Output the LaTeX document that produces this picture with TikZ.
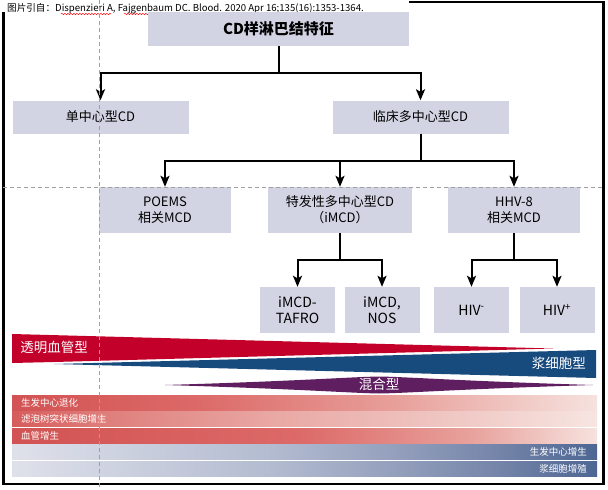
\documentclass[tikz,border=0pt]{standalone}
\usepackage{fontspec}
\setmainfont{Noto Sans CJK SC}
\usetikzlibrary{arrows.meta,decorations.pathmorphing}
\definecolor{boxc}{RGB}{210,212,227}
\definecolor{redw}{RGB}{194,0,42}
\definecolor{bluew}{RGB}{23,74,125}
\definecolor{purw}{RGB}{94,30,96}
\definecolor{dashc}{RGB}{160,160,160}
\definecolor{rA}{HTML}{D25353}
\definecolor{rB}{HTML}{DC6A68}
\definecolor{rC}{HTML}{E8A19C}
\definecolor{rD}{HTML}{F6E2DE}
\definecolor{sA}{HTML}{D65C5C}
\definecolor{sB}{HTML}{DE7D7A}
\definecolor{sC}{HTML}{E9A8A4}
\definecolor{sD}{HTML}{F0CAC6}
\definecolor{sE}{HTML}{F7E5E1}
\definecolor{bA}{HTML}{DFE1EA}
\definecolor{bB}{HTML}{D0D4E2}
\definecolor{bC}{HTML}{B3BBD0}
\definecolor{bD}{HTML}{95A1BD}
\definecolor{bE}{HTML}{7282A7}
\definecolor{bF}{HTML}{4D6693}
\tikzset{
  box/.style={fill=boxc, inner sep=0pt, align=center, font=\fontsize{13}{16}\selectfont},
  arr/.style={line width=2pt, -{Stealth[length=11pt,width=9pt,inset=2.5pt]}},
  dashln/.style={draw=dashc, line width=0.9pt, dash pattern=on 4pt off 3pt},
  bartext/.style={text=white, font=\fontsize{9.5}{11}\selectfont, inner sep=0pt},
  wedgetext/.style={text=white, font=\fontsize{13.5}{16}\selectfont, inner sep=0pt}
}
\begin{document}
\begin{tikzpicture}[x=1pt,y=-1pt]
\useasboundingbox (0,0) rectangle (608,490);
% frame
\draw[line width=2.6pt] (3.2,2) rectangle (603.5,484);
\fill[white] (0,0) rectangle (409,12);
% citation
\node[anchor=west, inner sep=0pt, font=\fontsize{9.6}{11}\selectfont] (cite) at (7,8.5)
  {图片引自：Dispenzieri A, Fajgenbaum DC. Blood. 2020 Apr 16;135(16):1353-1364.};
\draw[red, line width=0.5pt, decorate, decoration={snake, amplitude=0.6pt, segment length=3pt}] (61,14) -- (111,14);
\draw[red, line width=0.5pt, decorate, decoration={snake, amplitude=0.6pt, segment length=3pt}] (124,14) -- (180,14);
% boxes
\node[box, minimum width=261pt, minimum height=34pt, font=\bfseries\fontsize{15}{18}\selectfont] (title) at (278.5,29) {CD样淋巴结特征};
\node[box, minimum width=176pt, minimum height=33pt] (single) at (100.5,117) {单中心型CD};
\node[box, minimum width=176pt, minimum height=33pt] (clin) at (420.5,117) {临床多中心型CD};
\node[box, minimum width=132pt, minimum height=46pt] (poems) at (165,210) {POEMS\\相关MCD};
\node[box, minimum width=144pt, minimum height=46pt] (imcd) at (340,210) {特发性多中心型CD\\（iMCD）};
\node[box, minimum width=132pt, minimum height=46pt] (hhv) at (514,210) {HHV-8\\相关MCD};
\node[box, minimum width=75pt, minimum height=46pt, font=\fontsize{14}{16}\selectfont] (tafro) at (297.5,310) {iMCD-\\TAFRO};
\node[box, minimum width=75pt, minimum height=46pt, font=\fontsize{14}{16}\selectfont] (nos) at (382,310) {iMCD,\\NOS};
\node[box, minimum width=75pt, minimum height=46pt, font=\fontsize{14}{16}\selectfont] (hivn) at (471.5,310) {HIV\textsuperscript{-}};
\node[box, minimum width=75pt, minimum height=46pt, font=\fontsize{14}{16}\selectfont] (hivp) at (557,310) {HIV\textsuperscript{+}};
% connectors
\draw[arr] (title.south) -- ++(0,27) -| (single.north);
\draw[arr] (title.south) -- ++(0,27) -| (clin.north);
\draw[arr] (clin.south) -- ++(0,27) -| (poems.north);
\draw[arr] (clin.south) -- ++(0,27) -| (imcd.north);
\draw[arr] (clin.south) -- ++(0,27) -| (hhv.north);
\draw[arr] (imcd.south) -- ++(0,27) -| (tafro.north);
\draw[arr] (imcd.south) -- ++(0,27) -| (nos.north);
\draw[arr] (hhv.south) -- ++(0,27) -| (hivn.north);
\draw[arr] (hhv.south) -- ++(0,27) -| (hivp.north);
% wedges
\fill[redw] (12,334) -- (553,348.5) -- (54,362) -- (12,363) -- cycle;
\fill[bluew] (54,364) -- (596,350) -- (596,378) -- cycle;
\fill[purw] (165,385) .. controls (300,381) and (350,377) .. (379,376.5)
  .. controls (410,377) and (460,381) .. (593,385)
  .. controls (460,389) and (410,393) .. (379,393.5)
  .. controls (350,393) and (300,389) .. (165,385) -- cycle;
\node[wedgetext] (hv) at (54,347) {透明血管型};
\node[wedgetext, anchor=east] (pc) at (586,363) {浆细胞型};
\node[wedgetext] (mix) at (379,384.5) {混合型};
% bars
\shade[left color=rA, right color=rB] (12,395) rectangle (200.5,410);
\shade[left color=rB, right color=rC] (200,395) rectangle (400.5,410);
\shade[left color=rC, right color=rD] (400,395) rectangle (597,410);
\shade[left color=sA, right color=sB] (12,411.5) rectangle (100.5,426.5);
\shade[left color=sB, right color=sC] (100,411.5) rectangle (272.5,426.5);
\shade[left color=sC, right color=sD] (272,411.5) rectangle (467.5,426.5);
\shade[left color=sD, right color=sE] (467,411.5) rectangle (597,426.5);
\shade[left color=rA, right color=rB] (12,428) rectangle (300.5,443);
\shade[left color=rB, right color=rC] (300,428) rectangle (470.5,443);
\shade[left color=rC, right color=rD] (470,428) rectangle (597,443);
\foreach \ya/\yb in {444.5/459.5, 461/476}{
  \shade[left color=bA, right color=bB] (12,\ya) rectangle (100.5,\yb);
  \shade[left color=bB, right color=bC] (100,\ya) rectangle (272.5,\yb);
  \shade[left color=bC, right color=bD] (272,\ya) rectangle (389.5,\yb);
  \shade[left color=bD, right color=bE] (389,\ya) rectangle (506.5,\yb);
  \shade[left color=bE, right color=bF] (506,\ya) rectangle (597,\yb);
}
\node[bartext, anchor=west] (t1) at (21,402.5) {生发中心退化};
\node[bartext, anchor=west] (t2) at (21,419) {滤泡树突状细胞增生};
\node[bartext, anchor=west] (t3) at (21,435.5) {血管增生};
\node[bartext, anchor=east] (t4) at (587,452) {生发中心增生};
\node[bartext, anchor=east] (t5) at (587,468.5) {浆细胞增殖};
% dashed guides
\draw[dashln] (99,0) -- (99,490);
\draw[dashln] (3,187) -- (603,187);
\end{tikzpicture}
\end{document}
